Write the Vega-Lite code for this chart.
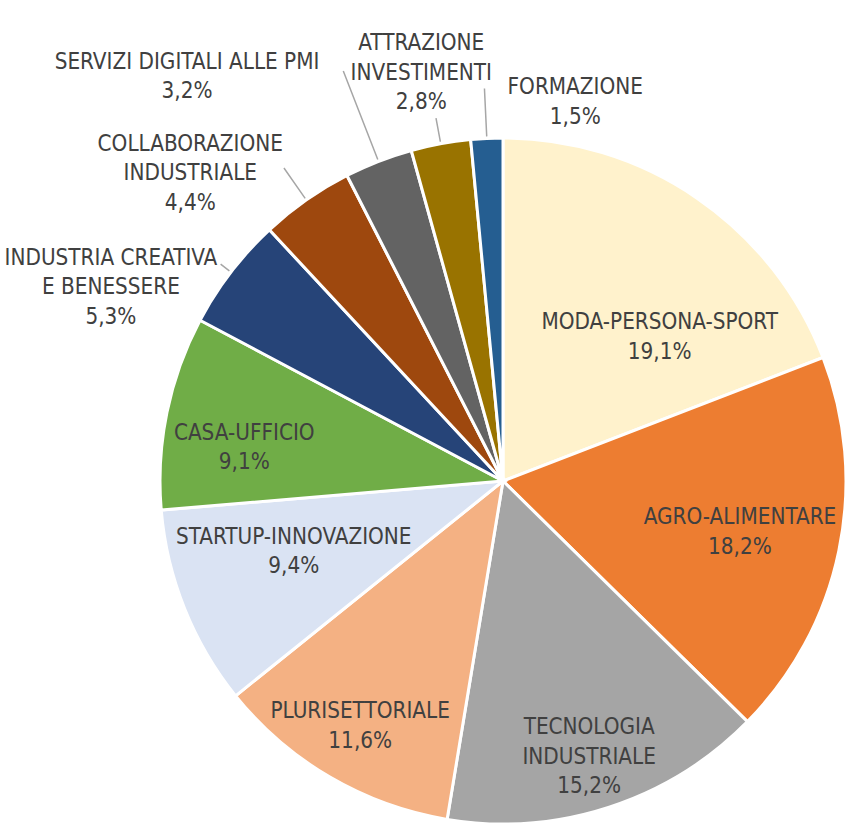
{
  "$schema": "https://vega.github.io/schema/vega-lite/v6.json",
  "width": 686,
  "height": 686,
  "autosize": {"type": "none"},
  "padding": {"left": 160, "top": 138, "right": 1, "bottom": 0},
  "background": "#ffffff",
  "data": {
    "values": [
      {"order": 1, "category": "MODA-PERSONA-SPORT", "label": "MODA-PERSONA-SPORT", "value": 19.1},
      {"order": 2, "category": "AGRO-ALIMENTARE", "label": "AGRO-ALIMENTARE", "value": 18.2},
      {"order": 3, "category": "TECNOLOGIA INDUSTRIALE", "label": "TECNOLOGIA\nINDUSTRIALE", "value": 15.2},
      {"order": 4, "category": "PLURISETTORIALE", "label": "PLURISETTORIALE", "value": 11.6},
      {"order": 5, "category": "STARTUP-INNOVAZIONE", "label": "STARTUP-INNOVAZIONE", "value": 9.4},
      {"order": 6, "category": "CASA-UFFICIO", "label": "CASA-UFFICIO", "value": 9.1},
      {"order": 7, "category": "INDUSTRIA CREATIVA E BENESSERE", "label": "INDUSTRIA CREATIVA\nE BENESSERE", "value": 5.3},
      {"order": 8, "category": "COLLABORAZIONE INDUSTRIALE", "label": "COLLABORAZIONE\nINDUSTRIALE", "value": 4.4},
      {"order": 9, "category": "SERVIZI DIGITALI ALLE PMI", "label": "SERVIZI DIGITALI ALLE PMI", "value": 3.2},
      {"order": 10, "category": "ATTRAZIONE INVESTIMENTI", "label": "ATTRAZIONE\nINVESTIMENTI", "value": 2.8},
      {"order": 11, "category": "FORMAZIONE", "label": "FORMAZIONE", "value": 1.5}
    ]
  },
  "transform": [
    {"stack": "value", "groupby": [], "sort": [{"field": "order", "order": "ascending"}], "as": ["v0", "v1"]},
    {"calculate": "(datum.v0 + datum.v1) / 2", "as": "mid"},
    {"calculate": "datum.label + '\\n' + replace(format(datum.value, '.1f'), '.', ',') + '%'", "as": "txt"}
  ],
  "layer": [
    {
      "mark": {"type": "arc", "outerRadius": 343, "stroke": "#ffffff", "strokeWidth": 3},
      "encoding": {
        "theta": {"field": "value", "type": "quantitative", "stack": true, "scale": {"nice": false, "zero": true}},
        "order": {"field": "order", "type": "quantitative", "sort": "ascending"},
        "color": {
          "field": "category",
          "type": "nominal",
          "legend": null,
          "scale": {
            "domain": ["MODA-PERSONA-SPORT", "AGRO-ALIMENTARE", "TECNOLOGIA INDUSTRIALE", "PLURISETTORIALE", "STARTUP-INNOVAZIONE", "CASA-UFFICIO", "INDUSTRIA CREATIVA E BENESSERE", "COLLABORAZIONE INDUSTRIALE", "SERVIZI DIGITALI ALLE PMI", "ATTRAZIONE INVESTIMENTI", "FORMAZIONE"],
            "range": ["#FFF2CC", "#ED7D31", "#A5A5A5", "#F4B183", "#DAE3F3", "#70AD47", "#264478", "#9E480E", "#636363", "#997300", "#255E91"]
          }
        }
      }
    },
    {
      "transform": [{"filter": "datum.order === 7"}],
      "mark": {"type": "arc", "innerRadius": 345, "outerRadius": 356, "filled": false, "stroke": "#A6A6A6", "strokeWidth": 1.5},
      "encoding": {"theta": {"field": "mid", "type": "quantitative", "stack": null}, "theta2": {"field": "mid"}}
    },
    {
      "transform": [{"filter": "datum.order === 8"}],
      "mark": {"type": "arc", "innerRadius": 345, "outerRadius": 382, "filled": false, "stroke": "#A6A6A6", "strokeWidth": 1.5},
      "encoding": {"theta": {"field": "mid", "type": "quantitative", "stack": null}, "theta2": {"field": "mid"}}
    },
    {
      "transform": [{"filter": "datum.order === 9"}],
      "mark": {"type": "arc", "innerRadius": 345, "outerRadius": 440, "filled": false, "stroke": "#A6A6A6", "strokeWidth": 1.5},
      "encoding": {"theta": {"field": "mid", "type": "quantitative", "stack": null}, "theta2": {"field": "mid"}}
    },
    {
      "transform": [{"filter": "datum.order === 10"}],
      "mark": {"type": "arc", "innerRadius": 345, "outerRadius": 369, "filled": false, "stroke": "#A6A6A6", "strokeWidth": 1.5},
      "encoding": {"theta": {"field": "mid", "type": "quantitative", "stack": null}, "theta2": {"field": "mid"}}
    },
    {
      "transform": [{"filter": "datum.order === 11"}],
      "mark": {"type": "arc", "innerRadius": 345, "outerRadius": 393, "filled": false, "stroke": "#A6A6A6", "strokeWidth": 1.5},
      "encoding": {"theta": {"field": "mid", "type": "quantitative", "stack": null}, "theta2": {"field": "mid"}}
    },
    {
      "transform": [{"filter": "datum.order === 1"}],
      "mark": {"type": "text", "radius": 208, "dx": 39, "dy": 13},
      "encoding": {"theta": {"field": "mid", "type": "quantitative", "stack": null}, "text": {"field": "txt"}}
    },
    {
      "transform": [{"filter": "datum.order === 2"}],
      "mark": {"type": "text", "radius": 242, "dx": 0, "dy": -13},
      "encoding": {"theta": {"field": "mid", "type": "quantitative", "stack": null}, "text": {"field": "txt"}}
    },
    {
      "transform": [{"filter": "datum.order === 3"}],
      "mark": {"type": "text", "radius": 288, "dx": -3, "dy": -27.5},
      "encoding": {"theta": {"field": "mid", "type": "quantitative", "stack": null}, "text": {"field": "txt"}}
    },
    {
      "transform": [{"filter": "datum.order === 4"}],
      "mark": {"type": "text", "radius": 283, "dy": -14},
      "encoding": {"theta": {"field": "mid", "type": "quantitative", "stack": null}, "text": {"field": "txt"}}
    },
    {
      "transform": [{"filter": "datum.order === 5"}],
      "mark": {"type": "text", "radius": 220, "dx": -5, "dy": -26},
      "encoding": {"theta": {"field": "mid", "type": "quantitative", "stack": null}, "text": {"field": "txt"}}
    },
    {
      "transform": [{"filter": "datum.order === 6"}],
      "mark": {"type": "text", "radius": 260, "dx": -4, "dy": 4},
      "encoding": {"theta": {"field": "mid", "type": "quantitative", "stack": null}, "text": {"field": "txt"}}
    },
    {
      "transform": [{"filter": "datum.order === 7"}],
      "mark": {"type": "text", "radius": 430, "dx": -51, "dy": 38.5},
      "encoding": {"theta": {"field": "mid", "type": "quantitative", "stack": null}, "text": {"field": "txt"}}
    },
    {
      "transform": [{"filter": "datum.order === 8"}],
      "mark": {"type": "text", "radius": 432, "dx": -65, "dy": 16.5},
      "encoding": {"theta": {"field": "mid", "type": "quantitative", "stack": null}, "text": {"field": "txt"}}
    },
    {
      "transform": [{"filter": "datum.order === 9"}],
      "mark": {"type": "text", "radius": 493, "dx": -137, "dy": 40},
      "encoding": {"theta": {"field": "mid", "type": "quantitative", "stack": null}, "text": {"field": "txt"}}
    },
    {
      "transform": [{"filter": "datum.order === 10"}],
      "mark": {"type": "text", "radius": 417, "dx": -6, "dy": -27.5},
      "encoding": {"theta": {"field": "mid", "type": "quantitative", "stack": null}, "text": {"field": "txt"}}
    },
    {
      "transform": [{"filter": "datum.order === 11"}],
      "mark": {"type": "text", "radius": 376, "dx": 90, "dy": -18},
      "encoding": {"theta": {"field": "mid", "type": "quantitative", "stack": null}, "text": {"field": "txt"}}
    }
  ],
  "config": {
    "view": {"stroke": null},
    "text": {
      "font": "DejaVu Sans Condensed, Liberation Sans",
      "fontSize": 22.3,
      "lineHeight": 29.5,
      "lineBreak": "\n",
      "align": "center",
      "baseline": "middle",
      "fill": "#404040"
    }
  }
}
